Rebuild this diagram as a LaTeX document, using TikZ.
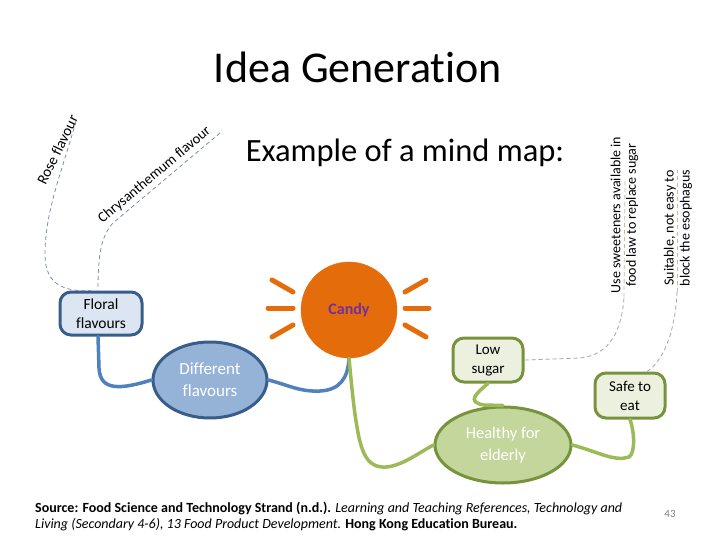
\documentclass[tikz,border=0pt]{standalone}
\usepackage{fontspec}
\setmainfont{Carlito}[Ligatures=NoCommon]
\usetikzlibrary{shapes.geometric}
\definecolor{orangec}{HTML}{E46C0A}
\definecolor{purplec}{HTML}{7030A0}
\definecolor{blueline}{HTML}{4F81BD}
\definecolor{bluedark}{HTML}{385D8A}
\definecolor{bluemid}{HTML}{95B3D7}
\definecolor{bluelight}{HTML}{DCE6F2}
\definecolor{greenline}{HTML}{9BBB59}
\definecolor{greendark}{HTML}{77933C}
\definecolor{greenmid}{HTML}{C3D69B}
\definecolor{greenlight}{HTML}{EBF1DE}
\definecolor{dashgray}{HTML}{8090A0}
\definecolor{dashtan}{HTML}{C4BD97}
\definecolor{dashlgray}{HTML}{A6A6A6}
\tikzset{
  fs/.style 2 args={font=\fontsize{#1}{#2}\selectfont},
  bluebox/.style={draw=bluedark, fill=bluelight, line width=3pt, rounded corners=11pt,
    minimum width=82pt, minimum height=43pt, inner sep=0pt, align=center, fs={15.5}{19}},
  greenbox/.style={draw=greendark, fill=greenlight, line width=3pt, rounded corners=11pt,
    minimum width=70pt, minimum height=44pt, inner sep=0pt, align=center, fs={15}{19}},
  blueconn/.style={draw=blueline, line width=3.5pt, line cap=round},
  greenconn/.style={draw=greenline, line width=3.5pt, line cap=round},
  ray/.style={draw=orangec, line width=5pt, line cap=round},
  dashlink/.style={draw=#1, line width=0.8pt, dash pattern=on 4pt off 3pt},
}
\begin{document}
\begin{tikzpicture}[x=1pt,y=-1pt]
\useasboundingbox (0,0) rectangle (720,540);
\fill[white] (0,0) rectangle (720,540);

% titles
\node[fs={44}{52}] (title) at (358,67) {Idea Generation};
\node[fs={32.5}{38}] (sub) at (405,153) {Example of a mind map:};

% central candy
\node[circle, fill=orangec, draw=orangec, minimum size=96pt, inner sep=0pt,
  text=purplec, font=\fontsize{16}{19}\selectfont\bfseries] (candy) at (349,310) {\raisebox{-3pt}{Candy}};
\draw[ray] (272,280) -- (293,292);
\draw[ray] (268,308) -- (293,308);
\draw[ray] (272,337) -- (293,325);
\draw[ray] (405,292) -- (426,280);
\draw[ray] (405,308) -- (429,308);
\draw[ray] (405,325) -- (426,337);

% blue branch
\node[bluebox] (floral) at (101,313.5) {Floral\\flavours};
\node[ellipse, draw=bluedark, fill=bluemid, line width=3pt, minimum width=114pt,
  minimum height=76pt, inner sep=0pt, align=center, text=white, fs={17}{22}] (diff) at (210,380) {Different\\flavours};

% green branch
\node[ellipse, draw=greendark, fill=greenmid, line width=3pt, minimum width=136pt,
  minimum height=76pt, inner sep=0pt, align=center, text=white, fs={16.5}{22}] (healthy) at (503,445) {Healthy for\\elderly};
\node[greenbox] (low) at (488,360) {Low\\sugar};
\node[greenbox, minimum height=45pt] (safe) at (630,395.5) {Safe to\\eat};

% solid connectors
\draw[blueconn] ([xshift=-3pt]floral.south) -- (99,368) .. controls (100,392) and (122,389) .. (diff.west);
\draw[blueconn] (diff.east) .. controls (288,385) and (300,392) .. (320,391)
   .. controls (340,390) and (348,378) .. (candy.south);
\draw[greenconn] (candy.south) .. controls (352,390) and (354,410) .. (357,427)
   .. controls (362,458) and (370,468) .. (386,467) .. controls (402,466) and (420,452) .. (healthy.west);
\draw[greenconn] (low.south) .. controls (478,392) and (465,402) .. (484,405) -- (healthy.north);
\draw[greenconn] (healthy.east) .. controls (598,452) and (615,462) .. (629,457)
   .. controls (636,452) and (634,430) .. (safe.south);

% floral sub-branches
\coordinate (roseend) at (76,121);
\coordinate (chrysend) at (220,133);
\draw[dashlink=dashgray] (roseend) .. controls (62,172) and (45,210) .. (45,255)
   .. controls (45,285) and (65,292) .. ([xshift=-10pt]floral.north);
\draw[dashlink=dashgray] (chrysend) -- (113,223) .. controls (101,236) and (98,255) .. ([xshift=-3pt]floral.north);
\node[fs={15}{17}, rotate=64, anchor=base] (rose) at (62,152) {Rose flavour};
\node[fs={14.5}{17}, rotate=40, anchor=base] (chrys) at (157,178) {Chrysanthemum flavour};

% low sugar and safe sub-branches
\node[fs={14}{15.5}, rotate=90, align=center, inner sep=0pt] (sweet) at (624.5,215) {Use sweeteners available in\\food law to replace sugar};
\node[fs={14}{16}, rotate=90, align=center, inner sep=0pt] (suit) at (678,228) {Suitable, not easy to\\block the esophagus};
\coordinate (sweettop) at (625,180);
\coordinate (suittop) at (677,170);
\draw[dashlink=dashlgray] (low.east) -- (580,358) .. controls (610,355) and (622,330) .. (624,297);
\draw[dashlink=dashtan] (624,297) -- (sweettop);
\draw[dashlink=dashlgray] ([xshift=17pt]safe.north) .. controls (662,362) and (675,335) .. (677,292);
\draw[dashlink=dashtan] (677,292) -- (suittop);

% source
\node[fs={14}{16}, anchor=north west, align=left, inner sep=0pt] (src) at (35,502)
  {\textbf{Source: Food Science and Technology Strand (n.d.).} \textit{Learning and Teaching References, Technology and}\\
   \textit{Living (Secondary 4-6), 13 Food Product Development.} \textbf{Hong Kong Education Bureau.}};
\node[fs={11}{13}, text=gray] (page) at (670,514) {43};
\end{tikzpicture}
\end{document}
